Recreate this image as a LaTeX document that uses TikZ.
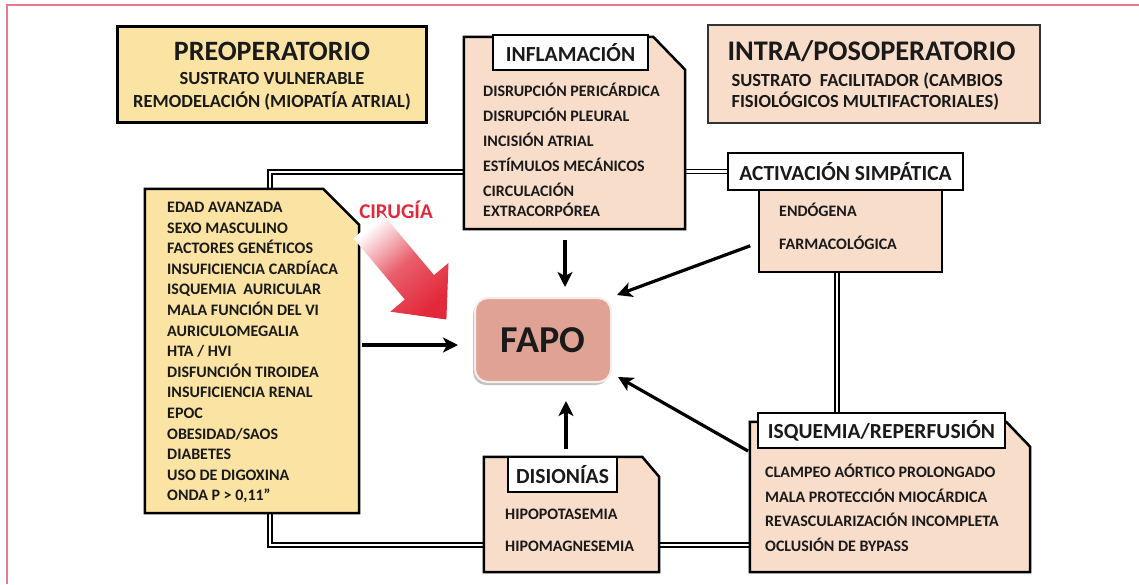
\documentclass[tikz,border=0pt]{standalone}
\usepackage{fontspec}
\setmainfont{Carlito}
\usetikzlibrary{positioning,calc,arrows.meta,shadows,backgrounds}

\definecolor{preyellow}{HTML}{FAE3A3}
\definecolor{peach}{HTML}{F8DDCB}
\definecolor{fapored}{HTML}{DFA295}
\definecolor{surgred}{HTML}{E2283A}
\definecolor{framepink}{HTML}{EA7A8C}
\definecolor{ink}{HTML}{1A1A1A}

\tikzset{
  headbox/.style={draw=black, line width=3pt, inner sep=0pt},
  docframe/.style={inner sep=0pt},
  docline/.style={draw=black, line width=2.5pt, line join=miter},
  tagbox/.style={draw=black, fill=white, line width=2.5pt, inner sep=0pt,
    font=\fontsize{21.5}{24}\selectfont\bfseries},
  items/.style={align=left, anchor=base west, inner sep=0pt},
  fapobox/.style={fill=fapored, draw=white!80!fapored, line width=2pt, rounded corners=13pt,
    minimum width=136, minimum height=84, font=\fontsize{38}{44}\selectfont\bfseries,
    drop shadow={shadow xshift=-2pt, shadow yshift=-3pt, fill=black!40, opacity=0.6}},
  link/.style={draw=black, double=white, double distance=2.2pt, line width=1.8pt},
  push/.style={-{Stealth[length=15pt, width=15pt, inset=4pt]}, line width=3.2pt},
}

\begin{document}
\begin{tikzpicture}[x=1pt, y=-1pt, every node/.style={text=ink, font=\bfseries}]
    \useasboundingbox (0,0) rectangle (1139,584);
    \draw[framepink, line width=1.5pt] (7,584) -- (7,5) -- (1139,5);

    % cabeceras
    \node[headbox, fill=preyellow, minimum width=309, minimum height=96] (pre) at (272,74.5) {};
    \node[anchor=base, font=\fontsize{28}{32}\selectfont\bfseries] (pretitle) at (272,60) {PREOPERATORIO};
    \node[anchor=base, font=\fontsize{18.5}{22}\selectfont\bfseries] (presub) at (272,84.5) {SUSTRATO VULNERABLE};
    \node[anchor=base, font=\fontsize{18.5}{22}\selectfont\bfseries] (preremo) at (272,107) {REMODELACIÓN (MIOPATÍA ATRIAL)};

    \node[headbox, draw=black!80, line width=2pt, fill=peach, minimum width=332, minimum height=98] (intra) at (874,74) {};
    \node[anchor=base west, font=\fontsize{28.4}{32}\selectfont\bfseries] (intratitle) at (724,60) {INTRA/POSOPERATORIO};
    \node[anchor=base west, font=\fontsize{18.5}{22}\selectfont\bfseries] (intrasub) at (728,86.5) {SUSTRATO\ \ FACILITADOR (CAMBIOS};
    \node[anchor=base west, font=\fontsize{18.5}{22}\selectfont\bfseries] (intramult) at (728,107.5) {FISIOLÓGICOS MULTIFACTORIALES)};

    % factores preoperatorios
    \node[docframe, minimum width=214, minimum height=324] (risk) at (252,351) {};
    \draw[docline, fill=preyellow] (risk.south west) |- ($(risk.north east)+(-36,0)$) -- ($(risk.north east)+(0,36)$) -- (risk.south east) -- cycle;
    \node[items, font=\fontsize{16}{20.6}\selectfont\bfseries] (risklist) at (167,500.9) {EDAD AVANZADA\\ SEXO MASCULINO\\ FACTORES GENÉTICOS\\ INSUFICIENCIA CARDÍACA\\ ISQUEMIA\ \ AURICULAR\\ MALA FUNCIÓN DEL VI\\ AURICULOMEGALIA\\ HTA / HVI\\ DISFUNCIÓN TIROIDEA\\ INSUFICIENCIA RENAL\\ EPOC\\ OBESIDAD/SAOS\\ DIABETES\\ USO DE DIGOXINA\\ ONDA P > 0,11”};

    % inflamacion
    \node[docframe, minimum width=221, minimum height=192] (infl) at (574.5,133) {};
    \draw[docline, fill=peach] (infl.south west) |- ($(infl.north east)+(-32,0)$) -- ($(infl.north east)+(0,33)$) -- (infl.south east) -- cycle;
    \node[tagbox, minimum width=155, minimum height=35] (infltag) at (570.5,52.5) {INFLAMACIÓN};
    \node[items, font=\fontsize{16}{25}\selectfont\bfseries] (infllist) at (483,216.5) {DISRUPCIÓN PERICÁRDICA\\ DISRUPCIÓN PLEURAL\\ INCISIÓN ATRIAL\\ ESTÍMULOS MECÁNICOS\\ CIRCULACIÓN\\[-5pt] EXTRACORPÓREA};

    % activacion simpatica
    \node[headbox, line width=2.5pt, fill=peach, minimum width=183, minimum height=82] (actbody) at (850.5,231) {};
    \node[tagbox, minimum width=235, minimum height=37] (acttag) at (845.5,171.5) {ACTIVACIÓN SIMPÁTICA};
    \node[items, font=\fontsize{16}{33}\selectfont\bfseries] (actlist) at (779,249.5) {ENDÓGENA\\ FARMACOLÓGICA};

    \node[fapobox] (fapo) at (543,340) {FAPO};

    % disionias
    \node[docframe, minimum width=175, minimum height=115] (dis) at (571.5,514.5) {};
    \draw[docline, fill=peach] (dis.south west) |- ($(dis.north east)+(-17,0)$) -- ($(dis.north east)+(0,20)$) -- (dis.south east) -- cycle;
    \node[tagbox, minimum width=109, minimum height=35] (distag) at (562.5,474.5) {DISIONÍAS};
    \node[items, font=\fontsize{16}{32}\selectfont\bfseries] (dislist) at (505,551.5) {HIPOPOTASEMIA\\ HIPOMAGNESEMIA};

    % isquemia
    \node[docframe, minimum width=280, minimum height=150] (isq) at (890,497) {};
    \draw[docline, fill=peach] (isq.south west) |- ($(isq.north east)+(-24,0)$) -- ($(isq.north east)+(0,25)$) -- (isq.south east) -- cycle;
    \node[tagbox, minimum width=247, minimum height=35] (isqtag) at (881.5,430.5) {ISQUEMIA/REPERFUSIÓN};
    \node[items, font=\fontsize{16}{24.7}\selectfont\bfseries] (isqlist) at (765,551.6) {CLAMPEO AÓRTICO PROLONGADO\\ MALA PROTECCIÓN MIOCÁRDICA\\ REVASCULARIZACIÓN INCOMPLETA\\ OCLUSIÓN DE BYPASS};

    % cirugia
    \node[font=\fontsize{21}{24}\selectfont\bfseries, text=surgred] (surg) at (396,210) {CIRUGÍA};
    \shade[top color=white, bottom color=surgred, middle color=surgred!75!white, shading angle=41]
        (382.6,213.8) -- (434,275.1) -- (448.5,262.9) -- (446.4,319.5) -- (390.3,311.7) -- (404.8,299.5) -- (353.4,238.2) -- cycle;

    \begin{scope}[on background layer]
        \draw[link] (270,0 |- risk.north) |- (infl.west |- 0,172);
        \draw[link] (infl.east |- acttag.west) -- (acttag.west);
        \draw[link] (270,0 |- risk.south) |- (dis.west |- 0,545);
        \draw[link] (dis.east |- 0,545) -- (isq.west |- 0,545);
        \draw[link] (837,0 |- actbody.south) -- (837,0 |- isqtag.north);
    \end{scope}

    \draw[push, shorten <=11pt, shorten >=10pt] (565,0 |- infl.south) -- (565,0 |- fapo.north);
    \draw[push, shorten <=8pt] (actbody.west |- 0,243) -- ($(fapo.north east)+(5,-2)$);
    \draw[push, shorten <=3pt, shorten >=16pt] (risk.east |- 0,345) -- (fapo.west |- 0,345);
    \draw[push, shorten <=8pt, shorten >=18pt] (566,0 |- dis.north) -- (566,0 |- fapo.south);
    \draw[push, shorten <=2pt] (isq.west |- 0,452) -- ($(fapo.east)+(6,37)$);
\end{tikzpicture}
\end{document}
